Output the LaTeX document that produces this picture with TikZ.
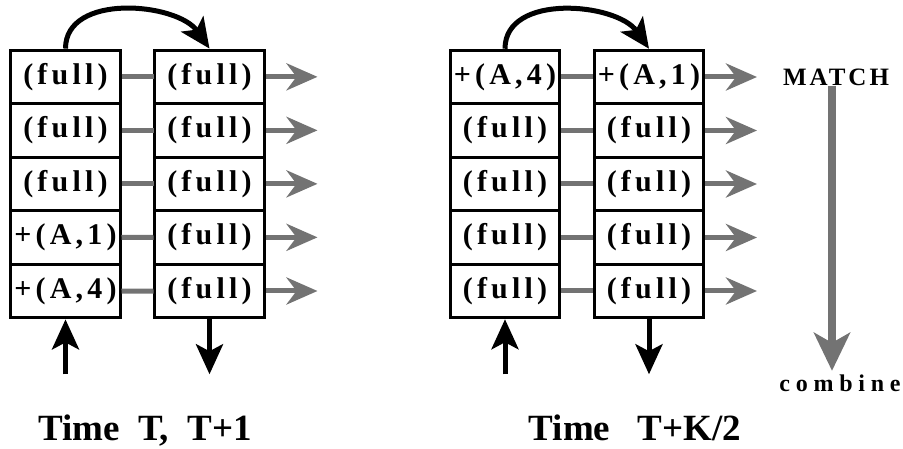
\documentclass[tikz,border=0pt]{standalone}
\usepackage{fontspec}
\setmainfont{Liberation Serif}
\newfontfamily\cellfont{Liberation Serif}[LetterSpace=14]
\newfontfamily\matchfont{Liberation Serif}[LetterSpace=12]
\newfontfamily\widefont{Liberation Serif}[LetterSpace=24]
\usetikzlibrary{matrix,arrows.meta,positioning}
\tikzset{
  cell/.style={draw, line width=3pt, minimum width=109pt, minimum height=53.5pt, inner sep=0pt,
    font=\cellfont\bfseries\fontsize{30}{30}\selectfont},
  hatch/.style={draw=black!55, line width=5pt},
  hatcharrow/.style={hatch, -{Stealth[length=31pt,width=27pt,inset=10pt]}},
  blackarrow/.style={line width=5pt, -{Stealth[length=30pt,width=27pt,inset=7pt]}},
  title/.style={font=\bfseries\fontsize{37}{37}\selectfont},
}
\begin{document}
\begin{tikzpicture}[x=1pt,y=-1pt]
\useasboundingbox (0,0) rectangle (903,449);
% time T, T+1
\matrix (L) at (137.5,184)
[matrix of nodes, nodes={cell}, column sep=32pt, row sep=-3pt]
{
{(full)} & {(full)} \\
{(full)} & {(full)} \\
{(full)} & {(full)} \\
{+(A,1)} & {(full)} \\
{+(A,4)} & {(full)} \\
};
% time T+K/2
\matrix (R) at (577,184)
[matrix of nodes, nodes={cell}, column sep=32pt, row sep=-3pt]
{
{+(A,4)} & {+(A,1)} \\
{(full)} & {(full)} \\
{(full)} & {(full)} \\
{(full)} & {(full)} \\
{(full)} & {(full)} \\
};
\foreach \m in {L,R}{
  \foreach \i in {1,...,5}{
    \coordinate[right=52pt of \m-\i-2.east] (\m-out-\i);
    \draw[hatch] (\m-\i-1) -- (\m-\i-2);
    \draw[hatcharrow] (\m-\i-2) -- (\m-out-\i);
  }
  \coordinate[below=55pt of \m-5-1.south] (\m-in);
  \coordinate[below=55pt of \m-5-2.south] (\m-down);
  \draw[blackarrow] (\m-1-1.north) to[out=90,in=125,looseness=1] (\m-1-2.north);
  \draw[blackarrow] (\m-in) -- (\m-5-1.south);
  \draw[blackarrow] (\m-5-2.south) -- (\m-down);
}
\node[title, anchor=base] (L-time) at (145,440) {Time\ \ T,\ \ T+1};
\node[title, anchor=base] (R-time) at (635,440) {Time\ \ \ T+K/2};
\node[font=\matchfont\bfseries\fontsize{25}{25}\selectfont, anchor=base] (match) at (836,86) {MATCH};
\node[font=\widefont\bfseries\fontsize{24}{24}\selectfont, anchor=base] (combine) at (840,391) {combine};
\draw[hatch, line width=8pt, -{Stealth[length=38pt,width=36pt,inset=10pt]}]
  ([xshift=-4pt]match.base) -- ([xshift=-4pt]match.base |- combine.north);
\end{tikzpicture}
\end{document}
